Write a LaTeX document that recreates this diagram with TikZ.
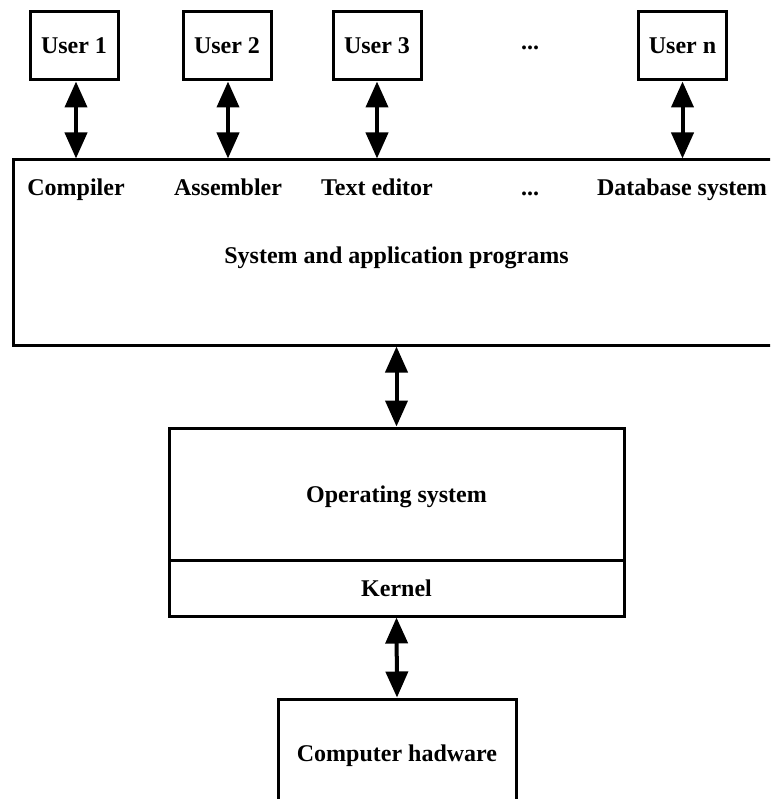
\documentclass[tikz,border=0pt]{standalone}
\usepackage{fontspec}
\setmainfont{Liberation Serif}
\usetikzlibrary{arrows.meta}
\begin{document}
\begin{tikzpicture}[x=1pt, y=-1pt, font=\fontsize{24}{28}\selectfont\bfseries,
  every node/.style = {text height=16pt, text depth=0pt},
  box/.style = {draw, line width=3pt, inner sep=0pt},
  user/.style = {box, minimum width=88pt, minimum height=68pt},
  link/.style = {line width=4pt, {Triangle[width=22pt,length=26pt]}-{Triangle[width=22pt,length=26pt]}}]
  \useasboundingbox (0,0) rectangle (770,799);
  \clip (0,0) rectangle (770,799);
  % users
  \node[user] (u1) at (74,46) {User 1};
  \node[user] (u2) at (227,46) {User 2};
  \node[user] (u3) at (377,46) {User 3};
  \node (udots) at (530,42) {...};
  \node[user] (un) at (682.5,46) {User n};
  % programs
  \node[box, minimum width=767pt, minimum height=185pt] (apps) at (396.5,252.5) {};
  \node (title) at (396.5,255) {System and application programs};
  \node (comp) at (76,188) {Compiler};
  \node (asm) at (228,188) {Assembler};
  \node (edit) at (377,188) {Text editor};
  \node (pdots) at (530,188) {...};
  \node (db) at (682,188) {Database system};
  % os and kernel
  \node[box, minimum width=455pt, minimum height=132pt] (os) at (396.5,494) {Operating system};
  \node[box, minimum width=455pt, minimum height=56pt] (kern) at (396.5,588) {Kernel};
  % hardware
  \node[box, minimum width=238pt, minimum height=108pt] (hw) at (397,753) {Computer hadware};
  \draw[link] (u1.south -| comp) -- (comp |- apps.north);
  \draw[link] (u2.south -| asm) -- (asm |- apps.north);
  \draw[link] (u3.south) -- (u3.south |- apps.north);
  \draw[link] (un.south) -- (un.south |- apps.north);
  \draw[link] (apps.south -| os.north) -- (os.north);
  \draw[link] (kern.south) -- (hw.north);
\end{tikzpicture}
\end{document}
